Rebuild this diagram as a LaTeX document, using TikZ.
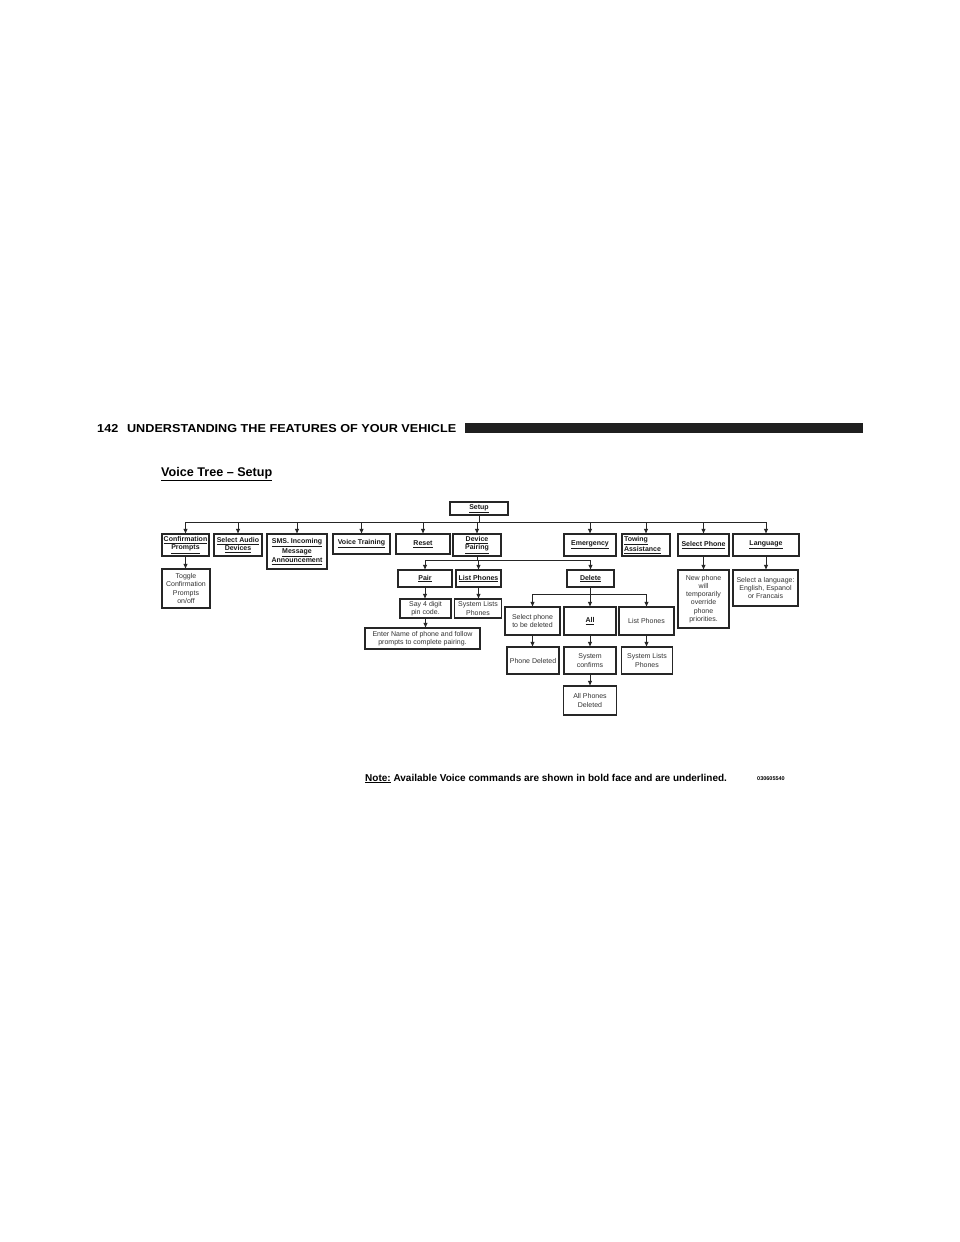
\documentclass[tikz,border=0pt]{standalone}
\usepackage{fontspec}
\setmainfont{Liberation Sans}
\usetikzlibrary{arrows.meta}
\begin{document}
\begin{tikzpicture}[x=1pt,y=-1pt,
  box/.style={draw=black!85, line width=1.1pt, inner sep=0pt, align=center,
    font=\fontsize{7}{8.2}\selectfont, text=black!80},
  bbox/.style={box, font=\fontsize{7}{8.2}\bfseries\selectfont, text=black!90},
  ln/.style={draw=black!85, line width=0.9pt},
  arr/.style={ln, -{Triangle[length=4.5pt,width=3.8pt]}}]
\useasboundingbox[fill=white] (0,0) rectangle (960,1242);

% header
\node[anchor=base west, inner sep=0pt, xscale=1.1, font=\fontsize{11.5}{13}\bfseries\selectfont] (hdr) at (97,432)
  {142\hspace{8pt}UNDERSTANDING THE FEATURES OF YOUR VEHICLE};
\fill[black!88] (465,423) rectangle (863,433);

% title
\node[anchor=base west, inner sep=0pt, font=\fontsize{12.6}{14}\bfseries\selectfont] (title) at (161,476)
  {\underline{Voice Tree – Setup}};

% top
\node[bbox, minimum width=58pt, minimum height=13pt] (setup) at (479,508.5) {\underline{Setup}};

% first level
\node[bbox, minimum width=47pt, minimum height=22pt] (conf) at (185.5,545) {\underline{Confirmation}\\\underline{Prompts}};
\node[bbox, minimum width=48pt, minimum height=22pt] (audio) at (238,545) {\underline{Select Audio}\\\underline{Devices}};
\node[bbox, minimum width=60pt, minimum height=35pt] (sms) at (297,551.5) {\underline{SMS. Incoming}\\\underline{Message}\\\underline{Announcement}};
\node[bbox, minimum width=57pt, minimum height=20pt] (vt) at (361.5,544) {\underline{Voice Training}};
\node[bbox, minimum width=54pt, minimum height=20pt] (reset) at (423,544) {\underline{Reset}};
\node[bbox, minimum width=48pt, minimum height=22pt] (dp) at (477,545) {\underline{Device}\\\underline{Pairing}};
\node[bbox, minimum width=52pt, minimum height=22pt] (emerg) at (590,545) {\underline{Emergency}};
\node[bbox, minimum width=48pt, minimum height=22pt, text width=44pt, align=left] (tow) at (646,545) {\underline{Towing}\\\underline{Assistance}};
\node[bbox, minimum width=51pt, minimum height=22pt] (selph) at (703.5,545) {\underline{Select Phone}};
\node[bbox, minimum width=66pt, minimum height=22pt] (lang) at (766,545) {\underline{Language}};

% second level
\node[box, minimum width=48pt, minimum height=39pt] (toggle) at (186,588.5) {Toggle\\Confirmation\\Prompts\\on/off};
\node[bbox, minimum width=54pt, minimum height=17pt] (pair) at (425,578.5) {\underline{Pair}};
\node[bbox, minimum width=45pt, minimum height=17pt] (lp1) at (478.5,578.5) {\underline{List Phones}};
\node[bbox, minimum width=47pt, minimum height=17pt] (delete) at (590.5,578.5) {\underline{Delete}};
\node[box, minimum width=51pt, minimum height=58pt] (newph) at (703.5,599) {New phone\\will\\temporarily\\override\\phone\\priorities.};
\node[box, minimum width=65pt, minimum height=36pt] (sellang) at (765.5,588) {Select a language:\\English, Espanol\\or Francais};

% third level
\node[box, minimum width=51pt, minimum height=19pt] (say) at (425.5,608.5) {Say 4 digit\\pin code.};
\node[box, minimum width=47pt, minimum height=19pt] (sl1) at (478,608.5) {System Lists\\Phones};
\node[box, minimum width=115pt, minimum height=21pt] (enter) at (422.5,638.5) {Enter Name of phone and follow\\prompts to complete pairing.};
\node[box, minimum width=55pt, minimum height=28pt] (selph2) at (532.5,621) {Select phone\\to be deleted};
\node[bbox, minimum width=52pt, minimum height=28pt] (all) at (590,621) {\underline{All}};
\node[box, minimum width=55pt, minimum height=28pt] (lp2) at (646.5,621) {List Phones};
\node[box, minimum width=52pt, minimum height=27pt] (phdel) at (533,660.5) {Phone Deleted};
\node[box, minimum width=52pt, minimum height=27pt] (syscon) at (590,660.5) {System\\confirms};
\node[box, minimum width=51pt, minimum height=27pt] (sl2) at (647,660.5) {System Lists\\Phones};
\node[box, minimum width=53pt, minimum height=29pt] (allph) at (590,700.5) {All Phones\\Deleted};

% buses
\coordinate (bus1) at (0,522);
\coordinate (bus2) at (0,560);
\coordinate (bus3) at (0,594);
\draw[ln] (setup.south) -- (setup.south |- bus1);
\draw[ln] (conf.north |- bus1) -- (lang.north |- bus1);
\foreach \n in {conf,audio,sms,vt,reset,dp,emerg,tow,selph,lang}
  \draw[arr] (\n.north |- bus1) -- (\n.north);
\draw[ln] (dp.south) -- (dp.south |- bus2);
\draw[ln] (pair.north |- bus2) -- (delete.north |- bus2);
\foreach \n in {pair,lp1,delete}
  \draw[arr] (\n.north |- bus2) -- (\n.north);
\draw[ln] (delete.south) -- (delete.south |- bus3);
\draw[ln] (selph2.north |- bus3) -- (lp2.north |- bus3);
\foreach \n in {selph2,all,lp2}
  \draw[arr] (\n.north |- bus3) -- (\n.north);

% direct arrows
\draw[arr] (conf.south) -- (conf.south |- toggle.north);
\draw[arr] (pair.south) -- (pair.south |- say.north);
\draw[arr] (say.south) -- (say.south |- enter.north);
\draw[arr] (lp1.south) -- (lp1.south |- sl1.north);
\draw[arr] (selph.south) -- (selph.south |- newph.north);
\draw[arr] (lang.south) -- (lang.south |- sellang.north);
\draw[arr] (selph2.south) -- (selph2.south |- phdel.north);
\draw[arr] (all.south) -- (all.south |- syscon.north);
\draw[arr] (syscon.south) -- (syscon.south |- allph.north);
\draw[arr] (lp2.south) -- (lp2.south |- sl2.north);

% note
\node[anchor=base west, inner sep=0pt, font=\fontsize{10}{12}\bfseries\selectfont] (note) at (365,781)
  {\underline{Note:} Available Voice commands are shown in bold face and are underlined.};
\node[anchor=base west, inner sep=0pt, font=\fontsize{5.5}{7}\bfseries\selectfont] (code) at (757,780) {030605540};
\end{tikzpicture}
\end{document}
